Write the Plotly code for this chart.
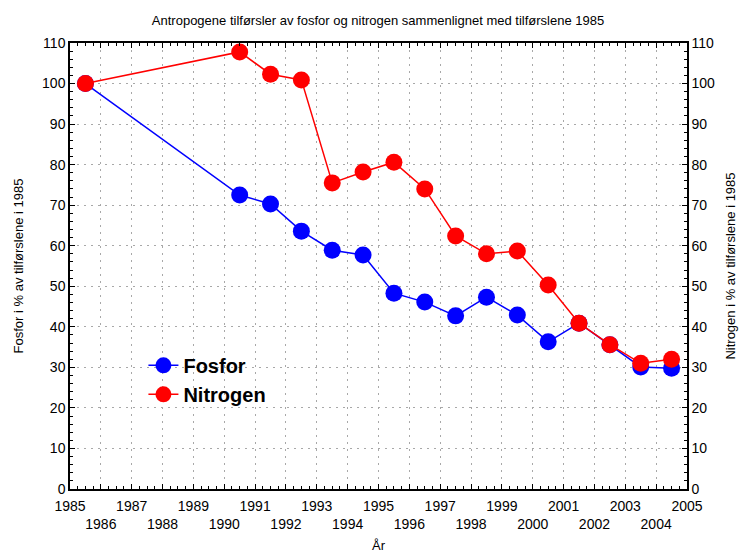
import plotly.graph_objects as go

# Data (percent of 1985 load)
years = [1985, 1990, 1991, 1992, 1993, 1994, 1995, 1996, 1997, 1998,
         1999, 2000, 2001, 2002, 2003, 2004]
fosfor = [100, 72.5, 70.3, 63.6, 58.9, 57.7, 48.3, 46.1, 42.7, 47.3,
          42.9, 36.3, 40.9, 35.6, 30.1, 29.8]
nitrogen = [100, 107.8, 102.3, 100.9, 75.5, 78.2, 80.6, 74.0, 62.4, 58.0,
            58.7, 50.3, 40.9, 35.6, 31.0, 32.0]

tick_years = list(range(1985, 2006))
# odd years on the first row, even years on the second row
tick_text = [str(y) if y % 2 == 1 else '<br>' + str(y) for y in tick_years]

# values are plotted at the middle of each year
x_mid = [y + 0.5 for y in years]

FONT = 'Liberation Sans, Arial, sans-serif'
GRID = '#a8a8a8'

fig = go.Figure()

fig.add_trace(go.Scatter(
    x=x_mid, y=fosfor, name='Fosfor', mode='lines+markers',
    line=dict(color='#0000FF', width=1.5),
    marker=dict(color='#0000FF', size=17, line=dict(width=0)),
))

fig.add_trace(go.Scatter(
    x=x_mid, y=nitrogen, name='Nitrogen', mode='lines+markers',
    yaxis='y2',
    line=dict(color='#FF0000', width=1.5),
    marker=dict(color='#FF0000', size=17, line=dict(width=0)),
))

axis_common = dict(
    showline=True, linecolor='black', linewidth=1.5,
    ticks='inside', ticklen=5, tickcolor='black', tickwidth=1,
    tickfont=dict(size=14, color='black'),
    zeroline=False, automargin=False, tickangle=0,
)

# page body has an 8px margin, so the figure is a bit smaller than the window
fig.update_layout(
    width=740, height=545,
    margin=dict(l=62, r=61, t=35, b=64),
    paper_bgcolor='white',
    plot_bgcolor='white',
    font=dict(family=FONT, color='black'),
    title=dict(
        text='Antropogene tilførsler av fosfor og nitrogen sammenlignet med tilførslene 1985',
        x=0.5, xanchor='center', y=0.978, yanchor='middle',
        font=dict(size=13, color='black'),
    ),
    xaxis=dict(
        **axis_common,
        range=[1985, 2005],
        tickmode='array', tickvals=tick_years, ticktext=tick_text,
        ticklabelstandoff=3,
        mirror='ticks',
        showgrid=True, gridcolor=GRID, griddash='2px,5px', gridwidth=1,
        minor=dict(ticks='inside', ticklen=3, dtick=0.25, tickcolor='black',
                   showgrid=False),
        title=dict(text='År', font=dict(size=13), standoff=10),
    ),
    yaxis=dict(
        **axis_common,
        range=[0, 110], dtick=10,
        showgrid=True, gridcolor=GRID, griddash='2px,5px', gridwidth=1,
        minor=dict(ticks='inside', ticklen=3, dtick=2, tickcolor='black',
                   showgrid=False),
        title=dict(text='Fosfor i % av tilførslene i 1985', font=dict(size=13),
                   standoff=16),
    ),
    yaxis2=dict(
        **axis_common,
        range=[0, 110], dtick=10,
        overlaying='y', side='right',
        showgrid=False,
        minor=dict(ticks='inside', ticklen=3, dtick=2, tickcolor='black'),
        title=dict(text='Nitrogen i % av tilførslene i 1985', font=dict(size=13),
                   standoff=12),
    ),
    legend=dict(
        x=0.119, y=0.321, xanchor='left', yanchor='top',
        bgcolor='rgba(0,0,0,0)',
        font=dict(size=20, color='black', family=FONT, weight='bold'),
        tracegroupgap=0, itemwidth=30,
    ),
)

fig.write_html('out.html')
